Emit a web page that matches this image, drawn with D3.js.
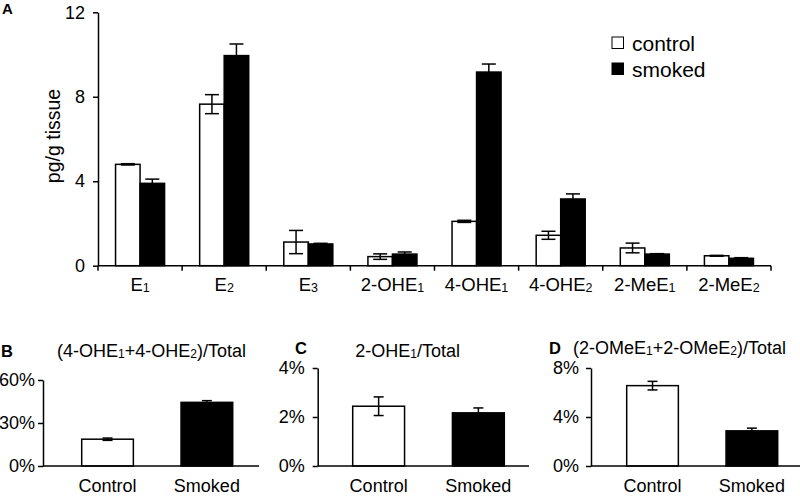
<!DOCTYPE html>
<html>
<head>
<meta charset="utf-8">
<script src="https://cdn.jsdelivr.net/npm/d3@7/dist/d3.min.js"></script>
<style>
  html, body { margin: 0; padding: 0; background: #fff; }
  svg { display: block; }
  text { font-family: "Liberation Sans", Arial, Helvetica, sans-serif; fill: #000; }
</style>
</head>
<body>
<svg id="chart" width="800" height="498"></svg>
<script>
// ---------- DATA ----------
const categories = ["E_1", "E_2", "E_3", "2-OHE_1", "4-OHE_1", "4-OHE_2", "2-MeE_1", "2-MeE_2"];
const seriesNames = ["control", "smoked"];
const controlValues = [4.80, 7.65, 1.12, 0.43, 2.10, 1.44, 0.84, 0.47];
const controlErrors = [0.03, 0.45, 0.55, 0.13, 0.05, 0.19, 0.23, 0.02];
const smokedValues  = [3.90, 9.95, 1.03, 0.55, 9.17, 3.16, 0.55, 0.35];
const smokedErrors  = [0.20, 0.55, 0.03, 0.10, 0.38, 0.24, 0.02, 0.03];
const ticksA = [0, 4, 8, 12];

const groupLabels = ["Control", "Smoked"];
const ratio4OH = [18.7, 44.4];
const ratio4OHErr = [0.8, 1.2];
const ticksB = [0, 30, 60];
const ratio2OH = [2.44, 2.17];
const ratio2OHErr = [0.38, 0.20];
const ticksC = [0, 2, 4];
const ratioMe = [6.56, 2.87];
const ratioMeErr = [0.35, 0.22];
const ticksD = [0, 4, 8];

// ---------- HELPERS ----------
const svg = d3.select("#chart");
const FONT = 18, SUBFONT = 12;

// write "X_1" style strings into a text element with subscripts
function richText(sel, str, fs, subfs) {
  sel.text(null);
  const parts = str.split(/_(\d)/);
  let prevSub = false;
  parts.forEach((p, i) => {
    if (p === "") return;
    const isSub = i % 2 === 1;
    const t = sel.append("tspan").text(p).style("font-size", (isSub ? subfs : fs) + "px");
    if (isSub) { t.attr("dy", 1); prevSub = true; }
    else if (prevSub) { t.attr("dy", -1); prevSub = false; }
  });
}

function styleAxis(g, fs) {
  g.selectAll("path.domain").attr("stroke", "#000").attr("stroke-width", 1.5);
  g.selectAll(".tick line").attr("stroke", "#000").attr("stroke-width", 1.5);
  g.selectAll("text").style("font-size", (fs || FONT) + "px").attr("fill", "#000");
}

function drawErr(g, cx, y, v, e, cap) {
  const yl = y(v - e), yh = y(v + e);
  g.append("line").attr("x1", cx).attr("x2", cx).attr("y1", yl).attr("y2", yh);
  g.append("line").attr("x1", cx - cap / 2).attr("x2", cx + cap / 2).attr("y1", yh).attr("y2", yh);
  g.append("line").attr("x1", cx - cap / 2).attr("x2", cx + cap / 2).attr("y1", yl).attr("y2", yl);
}

// ---------- PANEL A ----------
const A = { left: 98, right: 771, top: 12.3, bottom: 265.7 };
const yA = d3.scaleLinear().domain([0, 12]).range([A.bottom, A.top]);
const xA = d3.scaleBand().domain(categories).range([A.left, A.right]);
const xInner = d3.scaleBand().domain(seriesNames).range([0, xA.bandwidth()]).paddingOuter(0.716).paddingInner(0);

const gA = svg.append("g");
const seriesData = {
  control: { v: controlValues, e: controlErrors, fill: "#fff" },
  smoked: { v: smokedValues, e: smokedErrors, fill: "#000" }
};

seriesNames.forEach(s => {
  const d = seriesData[s];
  gA.append("g").selectAll("rect").data(categories).join("rect")
    .attr("x", c => xA(c) + xInner(s))
    .attr("width", xInner.bandwidth())
    .attr("y", (c, i) => yA(d.v[i]))
    .attr("height", (c, i) => yA(0) - yA(d.v[i]))
    .attr("fill", d.fill).attr("stroke", "#000").attr("stroke-width", 1.5);
});
const errA = gA.append("g").attr("stroke", "#000").attr("stroke-width", 1.5);
seriesNames.forEach(s => {
  const d = seriesData[s];
  categories.forEach((c, i) => {
    drawErr(errA, xA(c) + xInner(s) + xInner.bandwidth() / 2, yA, d.v[i], d.e[i], 14);
  });
});

// y axis
const yAxA = gA.append("g").attr("transform", `translate(${A.left},0)`)
  .call(d3.axisLeft(yA).tickValues(ticksA).tickSize(5).tickSizeOuter(0).tickPadding(8));
styleAxis(yAxA);

// x axis
const xAxA = gA.append("g").attr("transform", `translate(0,${A.bottom})`)
  .call(d3.axisBottom(xA).tickSize(0).tickSizeOuter(0).tickPadding(12));
xAxA.select("path.domain").attr("d", `M${A.left},0H${A.right}`);
styleAxis(xAxA, 18.5);
xAxA.selectAll(".tick text").each(function (c) { richText(d3.select(this), c, 18.5, 12.5); });
// boundary ticks
const bounds = categories.map(c => xA(c)).concat([xA.range()[1]]);
xAxA.append("g").selectAll("line").data(bounds).join("line")
  .attr("x1", d => d).attr("x2", d => d).attr("y1", 0).attr("y2", 5)
  .attr("stroke", "#000").attr("stroke-width", 1.5);

// y label
gA.append("text").attr("transform", "translate(60,136) rotate(-90)")
  .attr("text-anchor", "middle").style("font-size", "19.5px").text("pg/g tissue");

// panel letter
svg.append("text").attr("x", 2).attr("y", 14).style("font-size", "15px").style("font-weight", "bold").text("A");

// legend
const leg = svg.append("g");
seriesNames.forEach((s, i) => {
  leg.append("rect").attr("x", 612).attr("y", 37 + i * 26).attr("width", 11.5).attr("height", 11.5)
    .attr("fill", seriesData[s].fill).attr("stroke", "#000").attr("stroke-width", 1);
  leg.append("text").attr("x", 632).attr("y", 50.5 + i * 26).style("font-size", "21px").text(s);
});

// ---------- SMALL PANELS ----------
function smallPanel(o) {
  const g = svg.append("g");
  const y = d3.scaleLinear().domain([0, o.ticks[o.ticks.length - 1]]).range([o.zero, o.topY]);
  const x = d3.scaleBand().domain(groupLabels).range([o.barL, o.barR]).paddingInner(0.48).paddingOuter(0);
  g.selectAll("rect").data(groupLabels).join("rect")
    .attr("x", c => x(c)).attr("width", x.bandwidth())
    .attr("y", (c, i) => y(o.values[i]))
    .attr("height", (c, i) => y(0) - y(o.values[i]))
    .attr("fill", (c, i) => i === 0 ? "#fff" : "#000")
    .attr("stroke", "#000").attr("stroke-width", 1.5);
  const ge = g.append("g").attr("stroke", "#000").attr("stroke-width", 1.5);
  groupLabels.forEach((c, i) => drawErr(ge, x(c) + x.bandwidth() / 2, y, o.values[i], o.errors[i], 10));

  const ya = g.append("g").attr("transform", `translate(${o.axisX},0)`)
    .call(d3.axisLeft(y).tickValues(o.ticks).tickSize(5).tickSizeOuter(0).tickPadding(o.pad).tickFormat(d => d + "%"));
  styleAxis(ya);
  const xa = g.append("g").attr("transform", `translate(0,${o.zero})`)
    .call(d3.axisBottom(x).tickSize(0).tickSizeOuter(0).tickPadding(13));
  xa.select("path.domain").attr("d", `M${o.axisX},0H${o.axisEnd}`);
  styleAxis(xa);

  const t = g.append("text").attr("x", o.titleX).attr("y", o.titleY).attr("text-anchor", o.titleAnchor);
  richText(t, o.title, FONT, SUBFONT);
  g.append("text").attr("x", o.letterX).attr("y", o.letterY).style("font-size", "16.5px").style("font-weight", "bold").text(o.letter);
}

smallPanel({ axisX: 43, axisEnd: 259, zero: 466, topY: 380, barL: 81.7, barR: 232.7, pad: 3,
  ticks: ticksB, values: ratio4OH, errors: ratio4OHErr,
  title: "(4-OHE_1+4-OHE_2)/Total", titleX: 151.5, titleY: 357, titleAnchor: "middle", letter: "B", letterX: 1, letterY: 357 });
smallPanel({ axisX: 317.7, axisEnd: 529, zero: 466, topY: 368, barL: 352.7, barR: 504.3, pad: 8,
  ticks: ticksC, values: ratio2OH, errors: ratio2OHErr,
  title: "2-OHE_1/Total", titleX: 407.7, titleY: 357, titleAnchor: "middle", letter: "C", letterX: 295, letterY: 354 });
smallPanel({ axisX: 591, axisEnd: 800, zero: 466, topY: 368, barL: 626.7, barR: 777.7, pad: 7,
  ticks: ticksD, values: ratioMe, errors: ratioMeErr,
  title: "(2-OMeE_1+2-OMeE_2)/Total", titleX: 573, titleY: 354, titleAnchor: "start", letter: "D", letterX: 549, letterY: 354 });
</script>
</body>
</html>
